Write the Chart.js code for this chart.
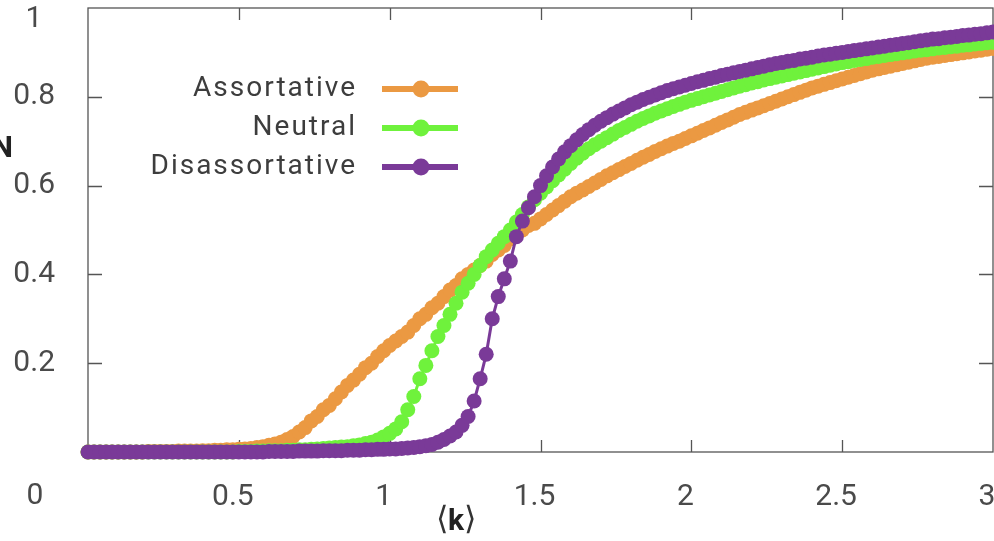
<!DOCTYPE html>
<html>
<head>
<meta charset="utf-8">
<script src="https://cdn.jsdelivr.net/npm/chart.js@4.4.1/dist/chart.umd.min.js"></script>
<style>
  html, body { margin: 0; padding: 0; background: #fff; }
  #wrap { width: 994px; height: 541px; }
</style>
</head>
<body>
<div id="wrap"><canvas id="chart" width="994" height="541"></canvas></div>
<script>
// mean degree <k>, sampled every 0.02
const kValues = [
  0, 0.02, 0.04, 0.06, 0.08, 0.1, 0.12, 0.14, 0.16, 0.18, 0.2, 0.22, 0.24, 0.26, 0.28, 0.3, 0.32, 0.34, 0.36, 0.38,
  0.4, 0.42, 0.44, 0.46, 0.48, 0.5, 0.52, 0.54, 0.56, 0.58, 0.6, 0.62, 0.64, 0.66, 0.68, 0.7, 0.72, 0.74, 0.76, 0.78,
  0.8, 0.82, 0.84, 0.86, 0.88, 0.9, 0.92, 0.94, 0.96, 0.98, 1, 1.02, 1.04, 1.06, 1.08, 1.1, 1.12, 1.14, 1.16, 1.18,
  1.2, 1.22, 1.24, 1.26, 1.28, 1.3, 1.32, 1.34, 1.36, 1.38, 1.4, 1.42, 1.44, 1.46, 1.48, 1.5, 1.52, 1.54, 1.56, 1.58,
  1.6, 1.62, 1.64, 1.66, 1.68, 1.7, 1.72, 1.74, 1.76, 1.78, 1.8, 1.82, 1.84, 1.86, 1.88, 1.9, 1.92, 1.94, 1.96, 1.98,
  2, 2.02, 2.04, 2.06, 2.08, 2.1, 2.12, 2.14, 2.16, 2.18, 2.2, 2.22, 2.24, 2.26, 2.28, 2.3, 2.32, 2.34, 2.36, 2.38,
  2.4, 2.42, 2.44, 2.46, 2.48, 2.5, 2.52, 2.54, 2.56, 2.58, 2.6, 2.62, 2.64, 2.66, 2.68, 2.7, 2.72, 2.74, 2.76, 2.78,
  2.8, 2.82, 2.84, 2.86, 2.88, 2.9, 2.92, 2.94, 2.96, 2.98, 3
];

const assortative = [
  0, 0, 0, 0, 0, 0, 0, 0, 0, 0, 0.001, 0.001, 0.001, 0.001, 0.001, 0.002, 0.002, 0.002, 0.002, 0.003, 0.003,
  0.004, 0.004, 0.005, 0.005, 0.006, 0.007, 0.008, 0.01, 0.012, 0.015,
  0.018, 0.022, 0.028, 0.035, 0.045, 0.055, 0.07, 0.08, 0.095, 0.105,
  0.12, 0.135, 0.15, 0.162, 0.175, 0.19, 0.2, 0.215, 0.228, 0.24,
  0.25, 0.26, 0.27, 0.285, 0.3, 0.31, 0.325, 0.335, 0.35, 0.365,
  0.375, 0.39, 0.4, 0.41, 0.42, 0.43, 0.445, 0.455, 0.465, 0.48,
  0.49, 0.5, 0.51, 0.515, 0.525, 0.535, 0.545, 0.555, 0.565, 0.575,
  0.583, 0.59, 0.598, 0.606, 0.614, 0.622, 0.629, 0.636, 0.643, 0.65,
  0.657, 0.664, 0.67, 0.677, 0.683, 0.689, 0.695, 0.7, 0.706, 0.712,
  0.718, 0.724, 0.73, 0.736, 0.742, 0.748, 0.754, 0.76, 0.765, 0.77,
  0.775, 0.78, 0.785, 0.79, 0.795, 0.8, 0.805, 0.81, 0.815, 0.82,
  0.824, 0.828, 0.832, 0.836, 0.84, 0.844, 0.848, 0.852, 0.856, 0.86,
  0.863, 0.866, 0.869, 0.872, 0.875, 0.878, 0.881, 0.884, 0.887, 0.889,
  0.891, 0.893, 0.895, 0.897, 0.899, 0.901, 0.903, 0.905, 0.907, 0.909
];

const neutral = [
  0, 0, 0, 0, 0, 0, 0, 0, 0, 0, 0, 0, 0, 0, 0, 0, 0, 0, 0, 0, 0,
  0, 0, 0, 0, 0.001, 0.001, 0.001, 0.002, 0.002, 0.003,
  0.003, 0.003, 0.004, 0.004, 0.005, 0.005, 0.006, 0.007, 0.008, 0.009,
  0.01, 0.011, 0.012, 0.014, 0.016, 0.019, 0.022, 0.027, 0.034, 0.042,
  0.052, 0.068, 0.095, 0.125, 0.165, 0.195, 0.228, 0.26, 0.285, 0.31,
  0.335, 0.36, 0.38, 0.4, 0.42, 0.44, 0.455, 0.47, 0.485, 0.5,
  0.518, 0.535, 0.552, 0.568, 0.583, 0.597, 0.611, 0.624, 0.637, 0.65,
  0.662, 0.673, 0.683, 0.692, 0.7, 0.708, 0.716, 0.724, 0.731, 0.738,
  0.745, 0.751, 0.757, 0.763, 0.768, 0.773, 0.778, 0.783, 0.788, 0.792,
  0.796, 0.8, 0.804, 0.808, 0.812, 0.816, 0.82, 0.824, 0.827, 0.831,
  0.834, 0.838, 0.841, 0.844, 0.847, 0.85, 0.853, 0.856, 0.859, 0.862,
  0.865, 0.868, 0.871, 0.874, 0.877, 0.879, 0.882, 0.884, 0.886, 0.889,
  0.891, 0.893, 0.895, 0.897, 0.899, 0.901, 0.903, 0.905, 0.906, 0.908,
  0.91, 0.911, 0.913, 0.914, 0.916, 0.917, 0.919, 0.92, 0.922, 0.923
];

const disassortative = [
  0, 0, 0, 0, 0, 0, 0, 0, 0, 0, 0, 0, 0, 0, 0, 0, 0, 0, 0, 0, 0,
  0, 0, 0, 0, 0, 0, 0, 0, 0, 0.001,
  0.001, 0.001, 0.001, 0.001, 0.002, 0.002, 0.002, 0.002, 0.003, 0.003,
  0.003, 0.003, 0.004, 0.004, 0.004, 0.005, 0.005, 0.006, 0.006, 0.007,
  0.007, 0.008, 0.009, 0.01, 0.012, 0.014, 0.017, 0.022, 0.028, 0.036,
  0.045, 0.06, 0.08, 0.115, 0.165, 0.22, 0.3, 0.35, 0.39, 0.43,
  0.485, 0.52, 0.55, 0.575, 0.6, 0.622, 0.642, 0.66, 0.676, 0.69,
  0.703, 0.715, 0.726, 0.736, 0.745, 0.753, 0.761, 0.768, 0.775, 0.782,
  0.788, 0.794, 0.799, 0.804, 0.809, 0.814, 0.818, 0.822, 0.826, 0.83,
  0.834, 0.837, 0.841, 0.844, 0.848, 0.851, 0.854, 0.857, 0.86, 0.863,
  0.866, 0.869, 0.872, 0.875, 0.877, 0.88, 0.882, 0.885, 0.887, 0.889,
  0.892, 0.894, 0.896, 0.898, 0.9, 0.902, 0.904, 0.906, 0.908, 0.91,
  0.912, 0.914, 0.916, 0.918, 0.92, 0.922, 0.924, 0.926, 0.928, 0.93,
  0.931, 0.933, 0.934, 0.936, 0.938, 0.939, 0.941, 0.942, 0.944, 0.946
];

const seriesNames = ['Assortative', 'Neutral', 'Disassortative'];
const xTicks = [0, 0.5, 1, 1.5, 2, 2.5, 3];
const yTicks = [0, 0.2, 0.4, 0.6, 0.8, 1];

const COLORS = ['#eb9942', '#6ff23c', '#7a3a98'];
const FONT = 'Roboto, "Open Sans", sans-serif';
const AXIS_GREY = '#555';

const toPoints = (ys) => kValues.map((k, i) => ({ x: k, y: ys[i] }));

function makeDataset(label, ys, color, order) {
  return {
    label, data: toPoints(ys), order,
    borderColor: color, backgroundColor: color,
    borderWidth: 3, pointRadius: 7.5, pointBorderWidth: 0,
    pointBackgroundColor: color, showLine: true, tension: 0, clip: false
  };
}

// frame, inward ticks, axis titles, corner labels and legend
const decor = {
  id: 'decor',
  beforeDatasetsDraw(chart) {
    const { ctx, chartArea: a, scales: { x, y } } = chart;
    ctx.save();
    ctx.strokeStyle = AXIS_GREY;
    ctx.lineWidth = 1.3;
    ctx.strokeRect(a.left, a.top, a.right - a.left, a.bottom - a.top);
    ctx.beginPath();
    xTicks.slice(1, -1).forEach(v => {
      const px = Math.round(x.getPixelForValue(v)) + 0.5;
      ctx.moveTo(px, a.bottom); ctx.lineTo(px, a.bottom - 12);
      ctx.moveTo(px, a.top); ctx.lineTo(px, a.top + 12);
    });
    yTicks.slice(1, -1).forEach(v => {
      const py = Math.round(y.getPixelForValue(v)) + 0.5;
      ctx.moveTo(a.left, py); ctx.lineTo(a.left + 14, py);
      ctx.moveTo(a.right, py); ctx.lineTo(a.right - 14, py);
    });
    ctx.stroke();
    ctx.restore();
  },
  afterDraw(chart) {
    const { ctx, scales: { x, y } } = chart;
    ctx.save();
    // corner labels "0" and "1"
    ctx.fillStyle = '#4a4a4a';
    ctx.font = '30px ' + FONT;
    ctx.textAlign = 'center';
    ctx.textBaseline = 'middle';
    ctx.fillText('0', 35, 496);
    ctx.fillText('1', 34, y.getPixelForValue(1) + 11);

    // axis titles
    ctx.fillStyle = '#222';
    ctx.font = 'bold 30px ' + FONT;
    ctx.textAlign = 'right';
    ctx.fillText('N', 13, 149);

    const ty = 521, cx = x.getPixelForValue(1.22);
    ctx.font = '300 32px "DejaVu Sans", sans-serif';
    ctx.fillStyle = '#333';
    ctx.textAlign = 'right';
    ctx.fillText('\u27e8', cx - 8, ty);
    ctx.textAlign = 'left';
    ctx.fillText('\u27e9', cx + 8, ty);
    ctx.font = 'bold 30px ' + FONT;
    ctx.fillStyle = '#222';
    ctx.textAlign = 'center';
    ctx.fillText('k', cx, ty + 1);

    // legend
    const rowY = [89, 128, 167];
    chart.data.datasets.forEach((ds, i) => {
      const ly = rowY[i];
      ctx.font = '28px ' + FONT;
      ctx.letterSpacing = '2px';
      ctx.fillStyle = '#3d3d3d';
      ctx.textAlign = 'right';
      ctx.textBaseline = 'middle';
      ctx.fillText(ds.label, 357, ly);
      ctx.letterSpacing = '0px';
      ctx.strokeStyle = ds.borderColor;
      ctx.lineWidth = 6;
      ctx.beginPath();
      ctx.moveTo(382, ly); ctx.lineTo(458, ly);
      ctx.stroke();
      ctx.fillStyle = ds.borderColor;
      ctx.beginPath();
      ctx.arc(421, ly, 8.5, 0, Math.PI * 2);
      ctx.fill();
    });
    ctx.restore();
  }
};

new Chart(document.getElementById('chart'), {
  type: 'scatter',
  data: {
    datasets: [
      makeDataset(seriesNames[0], assortative, COLORS[0], 3),
      makeDataset(seriesNames[1], neutral, COLORS[1], 2),
      makeDataset(seriesNames[2], disassortative, COLORS[2], 1)
    ]
  },
  options: {
    responsive: false,
    animation: false,
    layout: { autoPadding: false, padding: { left: 0, right: 1, top: 8, bottom: 0 } },
    plugins: { legend: { display: false }, tooltip: { enabled: false } },
    scales: {
      x: {
        type: 'linear', min: 0, max: 3,
        afterBuildTicks: (s) => { s.ticks = xTicks.map(v => ({ value: v })); },
        afterFit: (s) => { s.height = 89; s.paddingLeft = 0; s.paddingRight = 0; },
        grid: { display: false, drawTicks: false },
        border: { display: false },
        ticks: {
          color: '#4a4a4a', font: { family: FONT, size: 30 },
          padding: 27, labelOffset: -6, maxRotation: 0, autoSkip: false,
          callback: (v) => v === 0 ? '' : String(v)
        }
      },
      y: {
        min: 0, max: 1,
        afterBuildTicks: (s) => { s.ticks = yTicks.map(v => ({ value: v })); },
        afterFit: (s) => { s.width = 88; s.paddingTop = 0; s.paddingBottom = 0; },
        grid: { display: false, drawTicks: false },
        border: { display: false },
        ticks: {
          color: '#4a4a4a', font: { family: FONT, size: 30 },
          padding: 33, crossAlign: 'center', autoSkip: false,
          callback: (v) => (v === 0 || v === 1) ? '' : String(v)
        }
      }
    }
  },
  plugins: [decor]
});
</script>
</body>
</html>
